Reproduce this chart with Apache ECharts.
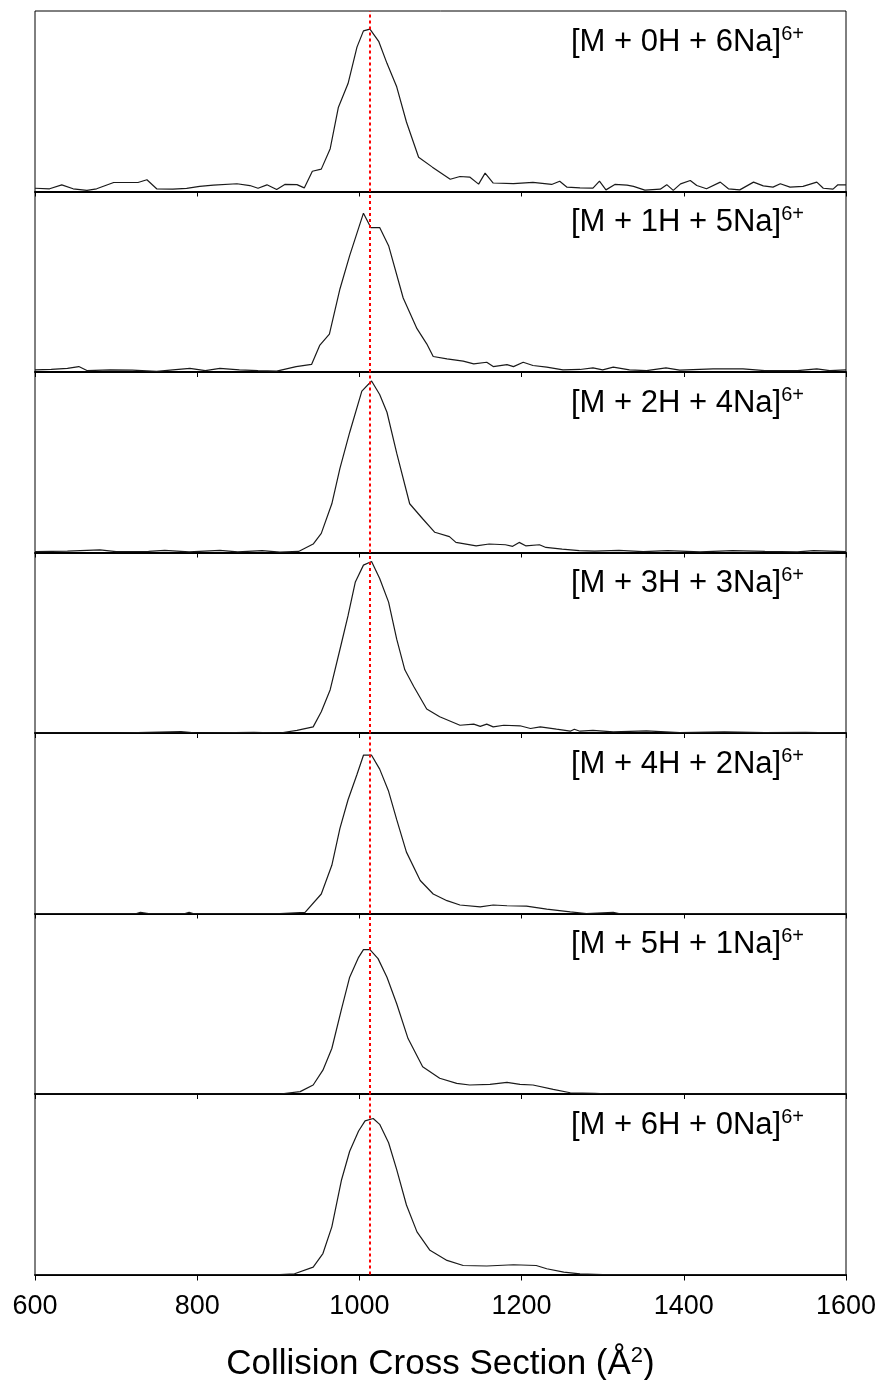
<!DOCTYPE html>
<html>
<head>
<meta charset="utf-8">
<script src="https://cdn.jsdelivr.net/npm/echarts@6/dist/echarts.min.js"></script>
<style>html,body{margin:0;padding:0;background:#fff}#c{width:882px;height:1380px}</style>
</head>
<body>
<div id="c"></div>
<script>
// ---- data ----
const xTicks = [600, 800, 1000, 1200, 1400, 1600];
const refLine = 1013;
const labels = [
  ['[M + 0H + 6Na]', '6+'],
  ['[M + 1H + 5Na]', '6+'],
  ['[M + 2H + 4Na]', '6+'],
  ['[M + 3H + 3Na]', '6+'],
  ['[M + 4H + 2Na]', '6+'],
  ['[M + 5H + 1Na]', '6+'],
  ['[M + 6H + 0Na]', '6+']
];
const s0H6Na = [[600,0.018],[618,0.015],[633,0.037],[647,0.015],[664,0.006],[676,0.015],[697,0.05],[727,0.05],[738,0.065],[750,0.015],[770,0.013],[787,0.017],[803,0.028],[820,0.035],[849,0.043],[865,0.033],[875,0.018],[886,0.037],[898,0.011],[908,0.039],[923,0.038],[932,0.02],[942,0.112],[953,0.124],[964,0.237],[974,0.465],[986,0.598],[997,0.80],[1005,0.89],[1013,0.90],[1024,0.83],[1034,0.71],[1046,0.58],[1058,0.385],[1073,0.19],[1090,0.135],[1112,0.068],[1124,0.083],[1136,0.08],[1147,0.041],[1155,0.102],[1165,0.047],[1190,0.044],[1214,0.051],[1237,0.039],[1247,0.057],[1256,0.024],[1272,0.02],[1288,0.019],[1296,0.057],[1304,0.009],[1315,0.039],[1330,0.035],[1338,0.028],[1352,0.008],[1371,0.013],[1379,0.038],[1387,0.006],[1396,0.042],[1408,0.061],[1416,0.033],[1428,0.015],[1445,0.052],[1455,0.015],[1469,0.009],[1486,0.052],[1498,0.031],[1510,0.024],[1519,0.043],[1531,0.024],[1547,0.028],[1564,0.052],[1572,0.018],[1584,0.013],[1590,0.037],[1600,0.037]];
const s1H5Na = [[600,0.012],[620,0.015],[640,0.02],[654,0.03],[664,0.008],[693,0.012],[720,0.01],[750,0.004],[770,0.012],[791,0.02],[810,0.008],[828,0.02],[852,0.012],[875,0.008],[898,0.005],[922,0.03],[941,0.042],[951,0.147],[963,0.21],[976,0.46],[988,0.645],[1005,0.88],[1014,0.80],[1025,0.80],[1036,0.70],[1054,0.41],[1071,0.24],[1083,0.156],[1091,0.086],[1108,0.073],[1128,0.06],[1141,0.045],[1157,0.054],[1165,0.03],[1182,0.041],[1190,0.03],[1202,0.054],[1214,0.036],[1231,0.027],[1251,0.012],[1272,0.014],[1288,0.023],[1300,0.012],[1313,0.027],[1333,0.012],[1354,0.008],[1378,0.023],[1395,0.01],[1436,0.017],[1473,0.017],[1500,0.008],[1540,0.008],[1564,0.017],[1580,0.008],[1600,0.012]];
const s2H4Na = [[600,0.005],[640,0.008],[680,0.015],[700,0.005],[740,0.006],[760,0.012],[790,0.004],[828,0.012],[850,0.004],[880,0.01],[902,0.002],[925,0.006],[943,0.047],[953,0.106],[966,0.27],[976,0.466],[988,0.665],[1003,0.894],[1015,0.95],[1025,0.875],[1034,0.777],[1046,0.55],[1062,0.27],[1078,0.187],[1093,0.112],[1111,0.088],[1119,0.056],[1144,0.037],[1160,0.047],[1180,0.043],[1189,0.034],[1197,0.056],[1205,0.037],[1222,0.043],[1230,0.028],[1250,0.019],[1271,0.01],[1290,0.008],[1320,0.012],[1350,0.005],[1380,0.01],[1420,0.004],[1460,0.01],[1500,0.006],[1540,0.004],[1560,0.01],[1600,0.005]];
const s3H3Na = [[600,0],[700,0],[780,0.008],[800,0],[870,0.004],[902,0],[923,0.015],[943,0.034],[953,0.118],[964,0.24],[978,0.50],[986,0.65],[995,0.837],[1005,0.93],[1015,0.95],[1025,0.856],[1036,0.725],[1046,0.52],[1056,0.35],[1067,0.258],[1083,0.133],[1099,0.09],[1124,0.043],[1141,0.049],[1149,0.037],[1157,0.049],[1165,0.034],[1178,0.043],[1198,0.04],[1211,0.025],[1223,0.034],[1243,0.021],[1260,0.01],[1265,0.021],[1272,0.01],[1288,0.015],[1313,0.006],[1354,0.012],[1395,0.002],[1450,0.006],[1500,0.002],[1550,0.004],[1600,0]];
const s4H2Na = [[600,0],[725,0],[730,0.006],[740,0],[785,0],[790,0.006],[795,0],[902,0],[933,0.006],[953,0.108],[966,0.267],[976,0.472],[986,0.63],[997,0.77],[1005,0.877],[1015,0.877],[1025,0.80],[1036,0.677],[1046,0.52],[1058,0.34],[1075,0.183],[1091,0.108],[1108,0.071],[1124,0.047],[1149,0.037],[1165,0.047],[1182,0.043],[1206,0.041],[1231,0.024],[1260,0.009],[1280,0],[1313,0.006],[1320,0],[1600,0]];
const s5H1Na = [[600,0],[902,0],[927,0.013],[943,0.05],[955,0.132],[966,0.252],[978,0.472],[988,0.647],[999,0.757],[1005,0.80],[1013,0.80],[1023,0.75],[1034,0.647],[1046,0.50],[1060,0.307],[1078,0.151],[1099,0.087],[1120,0.059],[1136,0.05],[1161,0.053],[1182,0.064],[1198,0.053],[1214,0.05],[1239,0.026],[1260,0.007],[1290,0.004],[1311,0],[1600,0]];
const s6H0Na = [[600,0],[902,0],[920,0.004],[943,0.041],[955,0.116],[966,0.264],[978,0.525],[988,0.683],[999,0.795],[1007,0.851],[1017,0.864],[1025,0.832],[1036,0.73],[1046,0.581],[1058,0.385],[1071,0.236],[1087,0.134],[1108,0.078],[1128,0.05],[1157,0.047],[1190,0.054],[1218,0.05],[1231,0.032],[1252,0.013],[1272,0.004],[1300,0],[1600,0]];
const seriesData = [s0H6Na, s1H5Na, s2H4Na, s3H3Na, s4H2Na, s5H1Na, s6H0Na];

// ---- layout ----
const FONT = "'Liberation Sans', Arial, sans-serif";
const L = 35, R = 36, T0 = 11, H = 180.5;
const n = seriesData.length;
const grids = [], xAxes = [], yAxes = [], series = [], titles = [];
const supStyle = {fontSize: 20, fontFamily: FONT, color: '#000', verticalAlign: 'top', padding: [0, 0, 16, 0]};
for (let i = 0; i < n; i++) {
  const top = T0 + i * H;
  const last = i === n - 1;
  grids.push({left: L, right: R, top: top, height: H, show: true, borderColor: '#000', borderWidth: 1,
    backgroundColor: 'transparent', containLabel: false, outerBoundsMode: 'none'});
  xAxes.push({
    type: 'value', gridIndex: i, min: xTicks[0], max: xTicks[xTicks.length - 1], interval: 200,
    axisLine: {show: true, onZero: false, lineStyle: {color: '#000', width: 2}},
    axisTick: {show: true, inside: false, length: last ? 6 : 5, lineStyle: {color: '#000', width: 1}},
    axisLabel: {show: last, color: '#000', fontSize: 27, fontFamily: FONT, margin: 19,
      formatter: function (v) { return String(v); }},
    splitLine: {show: false},
    name: last ? 'Collision Cross Section (Å{s|2})' : '',
    nameLocation: 'middle', nameGap: 70,
    nameTextStyle: {color: '#000', fontSize: 35, fontFamily: FONT,
      rich: {s: {fontSize: 22, fontFamily: FONT, color: '#000', verticalAlign: 'top', padding: [0, 0, 18, 0]}}}
  });
  yAxes.push({type: 'value', gridIndex: i, min: 0, max: 1, show: false});
  series.push({
    type: 'line', xAxisIndex: i, yAxisIndex: i, data: seriesData[i],
    showSymbol: false, symbol: 'none', smooth: false,
    lineStyle: {color: '#1a1a1a', width: 1.2},
    silent: true,
    markLine: {silent: true, symbol: ['none', 'none'], label: {show: false},
      lineStyle: {color: '#ff0000', type: [3, 3], width: 2},
      data: [{xAxis: refLine}]}
  });
  titles.push({
    text: labels[i][0] + '{s|' + labels[i][1] + '}',
    left: 566, top: top + 8,
    textStyle: {color: '#000', fontSize: 31, fontWeight: 'normal', fontFamily: FONT, rich: {s: supStyle}}
  });
}

const chart = echarts.init(document.getElementById('c'), null, {renderer: 'canvas'});
chart.setOption({
  animation: false,
  backgroundColor: '#fff',
  title: titles,
  grid: grids,
  xAxis: xAxes,
  yAxis: yAxes,
  series: series
});
</script>
</body>
</html>
